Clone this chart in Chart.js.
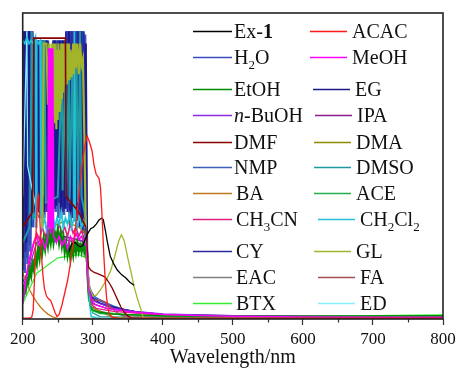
<!DOCTYPE html>
<html>
<head>
<meta charset="utf-8">
<script src="https://cdn.jsdelivr.net/npm/chart.js@4.4.1/dist/chart.umd.min.js"></script>
<style>
    html, body { margin: 0; padding: 0; background: #fff; }
</style>
</head>
<body>
<canvas id="uvChart" width="457" height="369"></canvas>
<script>
// absorbance spectra, [wavelength nm, absorbance]
const ex1 = [[266,0.22],[270,0.245],[275,0.25],[279,0.24],[282,0.236],[286,0.24],[289,0.26],[293,0.28],[297,0.295],[301,0.3],[305,0.31],[309,0.324],[313,0.33],[315,0.325],[318,0.29],[321,0.25],[325,0.205],[330,0.18],[335,0.16],[341,0.145],[347,0.135],[353,0.12],[359,0.11]];
const acac = [[200,0.003],[210,0.003],[213,0.006],[215,0.03],[217,0.14],[219,0.28],[221,0.39],[222,0.405],[223,0.39],[225,0.3],[227,0.2],[229,0.14],[231,0.1],[234,0.075],[237,0.066],[240,0.06],[243,0.042],[246,0.022],[249,0.008],[252,0.015],[256,0.045],[260,0.085],[264,0.125],[268,0.18],[271,0.23],[275,0.29],[280,0.4],[285,0.51],[289,0.57],[292,0.598],[295,0.58],[299,0.55],[302,0.5],[305,0.472],[309,0.46],[311,0.43],[313,0.35],[316,0.2],[318,0.12],[320,0.065],[323,0.02],[327,0.006],[335,0.003],[800,0.002]];
const h2o = [[200,0.94],[202,0.16],[204,0.94],[206,0.2],[208,0.94],[210,0.24],[212,0.94],[214,0.3],[216,0.91],[218,0.4],[220,0.91],[222,0.35],[224,0.91],[226,0.4],[228,0.91],[230,0.44],[232,0.91],[234,0.38],[236,0.91],[238,0.42],[240,0.45],[242,0.4],[244,0.91],[246,0.44],[248,0.91],[250,0.4],[252,0.91],[254,0.38],[256,0.91],[258,0.45],[260,0.91],[262,0.36],[264,0.94],[266,0.42],[268,0.94],[270,0.38],[272,0.94],[274,0.4],[276,0.94],[278,0.35],[280,0.94],[282,0.38],[284,0.94],[286,0.32],[288,0.92],[290,0.3],[292,0.2],[294,0.12],[296,0.09],[300,0.072],[305,0.065],[310,0.058],[320,0.049],[330,0.041],[345,0.031],[360,0.025],[380,0.019],[400,0.015],[450,0.011],[500,0.009],[600,0.008],[700,0.007],[800,0.006]];
const meoh = [[200,0.05],[204,0.12],[208,0.18],[212,0.22],[216,0.25],[220,0.27],[224,0.24],[228,0.26],[232,0.23],[236,0.27],[237,0.885],[238,0.3],[239,0.885],[240,0.28],[241,0.885],[242,0.3],[243,0.885],[244,0.27],[248,0.25],[252,0.27],[256,0.24],[260,0.26],[264,0.23],[268,0.27],[272,0.25],[276,0.28],[280,0.26],[284,0.27],[288,0.25],[291,0.24],[294,0.1],[298,0.06],[305,0.045],[320,0.035],[350,0.024],[400,0.015],[450,0.011],[500,0.009],[600,0.007],[800,0.005]];
const etoh = [[200,0.06],[202,0.1],[204,0.09],[206,0.13],[208,0.12],[210,0.16],[212,0.14],[214,0.18],[216,0.16],[218,0.2],[220,0.18],[222,0.23],[224,0.2],[226,0.25],[228,0.22],[230,0.26],[232,0.23],[234,0.27],[236,0.24],[238,0.28],[240,0.25],[242,0.29],[244,0.25],[246,0.28],[248,0.26],[250,0.29],[252,0.25],[254,0.28],[256,0.24],[258,0.27],[260,0.22],[262,0.25],[264,0.21],[266,0.24],[268,0.2],[270,0.24],[272,0.21],[274,0.25],[276,0.22],[278,0.25],[280,0.22],[282,0.24],[284,0.22],[286,0.25],[288,0.22],[290,0.24],[292,0.2],[294,0.08],[297,0.04],[300,0.03],[310,0.022],[330,0.016],[400,0.01],[500,0.009],[600,0.009],[700,0.01],[800,0.011]];
const eg = [[200,0.2],[203,0.94],[205,0.25],[209,0.94],[211,0.3],[216,0.91],[218,0.36],[222,0.91],[224,0.33],[229,0.91],[231,0.35],[235,0.91],[237,0.4],[246,0.91],[248,0.37],[253,0.91],[255,0.33],[258,0.91],[260,0.36],[266,0.94],[268,0.3],[275,0.94],[277,0.32],[283,0.94],[285,0.28],[290,0.9],[292,0.2],[295,0.1],[300,0.068],[310,0.052],[330,0.038],[360,0.024],[400,0.015],[500,0.009],[800,0.005]];
const nbuoh = [[200,0.1],[220,0.25],[250,0.27],[280,0.26],[291,0.25],[294,0.1],[300,0.06],[310,0.05],[330,0.035],[360,0.025],[400,0.017],[450,0.013],[500,0.011],[600,0.009],[700,0.008],[800,0.007]];
const ipa = [[200,0.12],[230,0.26],[260,0.27],[290,0.25],[294,0.08],[300,0.05],[320,0.035],[360,0.022],[400,0.015],[500,0.01],[800,0.006]];
const dmf = [[200,0.3],[214,0.35],[216,0.918],[261,0.918],[262,0.4],[280,0.35],[290,0.3],[294,0.17],[297,0.16],[302,0.152],[306,0.149],[311,0.144],[315,0.14],[318,0.136],[323,0.12],[328,0.1],[332,0.08],[335,0.065],[340,0.04],[345,0.022],[350,0.01],[355,0.004],[370,0.002],[800,0.002]];
const dma = [[240,0.3],[260,0.32],[280,0.3],[290,0.28],[294,0.1],[298,0.05],[302,0.035],[310,0.025],[320,0.014],[330,0.006],[345,0.003],[800,0.002]];
const nmp = [[201,0.94],[203,0.15],[205,0.94],[207,0.18],[209,0.94],[211,0.22],[213,0.94],[215,0.3],[217,0.91],[219,0.34],[221,0.91],[223,0.38],[225,0.91],[227,0.36],[229,0.91],[231,0.33],[233,0.91],[235,0.37],[237,0.5],[239,0.34],[241,0.5],[243,0.38],[245,0.91],[247,0.35],[249,0.91],[251,0.33],[253,0.91],[255,0.36],[257,0.91],[259,0.34],[261,0.91],[263,0.37],[265,0.94],[267,0.33],[269,0.94],[271,0.35],[273,0.94],[275,0.32],[277,0.94],[279,0.34],[281,0.94],[283,0.3],[285,0.94],[287,0.28],[289,0.93],[291,0.25],[293,0.15],[295,0.11],[298,0.09],[302,0.075],[306,0.068],[311,0.062],[316,0.056],[321,0.051],[330,0.042],[345,0.031],[370,0.02],[400,0.013],[430,0.01],[500,0.008],[600,0.007],[800,0.006]];
const dmso = [[200,0.25],[210,0.3],[213,0.94],[215,0.33],[226,0.35],[228,0.91],[229,0.4],[231,0.91],[233,0.38],[250,0.4],[256,0.82],[257,0.42],[261,0.85],[262,0.4],[266,0.82],[267,0.38],[271,0.85],[273,0.38],[277,0.82],[279,0.38],[282,0.94],[284,0.4],[290,0.33],[293,0.18],[296,0.05],[300,0.02],[310,0.008],[400,0.004],[800,0.003]];
const ba = [[200,0.15],[205,0.12],[210,0.095],[215,0.073],[220,0.055],[225,0.04],[230,0.028],[236,0.016],[242,0.008],[248,0.003],[260,0.002],[800,0.002]];
const ace = [[201,0.07],[205,0.1],[209,0.14],[213,0.17],[217,0.19],[221,0.22],[225,0.24],[229,0.23],[233,0.26],[237,0.25],[241,0.27],[245,0.26],[249,0.28],[253,0.26],[257,0.25],[261,0.23],[265,0.24],[269,0.22],[273,0.24],[277,0.23],[281,0.24],[285,0.23],[289,0.24],[292,0.2],[294,0.07],[298,0.03],[310,0.018],[400,0.009],[600,0.008],[800,0.01]];
const ch3cn = [[200,0.06],[204,0.12],[208,0.17],[212,0.21],[216,0.25],[220,0.28],[224,0.26],[228,0.3],[232,0.27],[236,0.29],[240,0.26],[244,0.3],[248,0.27],[252,0.31],[256,0.28],[260,0.3],[264,0.27],[268,0.31],[272,0.28],[276,0.3],[280,0.27],[284,0.29],[288,0.26],[291,0.25],[293,0.12],[297,0.05],[305,0.035],[330,0.025],[400,0.012],[500,0.008],[800,0.005]];
const ch2cl2 = [[200,0.91],[203,0.9],[206,0.92],[209,0.9],[212,0.91],[215,0.9],[218,0.92],[219,0.3],[220,0.91],[223,0.9],[225,0.91],[226,0.35],[228,0.3],[231,0.33],[234,0.29],[237,0.32],[240,0.3],[243,0.34],[246,0.3],[249,0.33],[252,0.31],[255,0.35],[258,0.3],[261,0.33],[264,0.31],[267,0.34],[270,0.3],[273,0.33],[274,0.94],[275,0.32],[278,0.3],[281,0.34],[284,0.3],[287,0.32],[290,0.29],[292,0.2],[294,0.12],[296,0.04],[298,0.008],[305,0.003],[800,0.002]];
const cy = [[201,0.94],[204,0.22],[208,0.94],[210,0.3],[214,0.94],[217,0.35],[220,0.91],[223,0.36],[226,0.91],[228,0.38],[233,0.91],[235,0.35],[244,0.91],[246,0.36],[250,0.91],[252,0.38],[256,0.91],[258,0.35],[262,0.94],[264,0.35],[270,0.94],[272,0.33],[279,0.94],[281,0.3],[287,0.94],[289,0.3],[292,0.18],[295,0.09],[300,0.062],[320,0.042],[340,0.032],[360,0.023],[400,0.014],[600,0.008],[800,0.006]];
const gl = [[228,0.3],[230,0.9],[234,0.9],[236,0.7],[238,0.9],[240,0.68],[242,0.9],[244,0.66],[245,0.9],[246,0.64],[247,0.9],[248,0.62],[249,0.88],[250,0.65],[251,0.9],[252,0.68],[253,0.88],[254,0.7],[255,0.9],[256,0.72],[257,0.88],[258,0.74],[259,0.9],[260,0.76],[261,0.88],[262,0.77],[263,0.9],[264,0.78],[266,0.9],[267,0.78],[268,0.88],[270,0.79],[272,0.9],[273,0.8],[275,0.9],[276,0.82],[278,0.9],[280,0.8],[282,0.9],[284,0.83],[286,0.85],[288,0.6],[290,0.3],[293,0.16],[296,0.1],[300,0.075],[305,0.078],[311,0.095],[319,0.125],[326,0.16],[332,0.21],[337,0.255],[341,0.275],[345,0.255],[350,0.2],[355,0.15],[359,0.105],[364,0.065],[369,0.03],[372,0.005],[380,0.002],[800,0.002]];
const eac = [[200,0.1],[230,0.25],[260,0.26],[290,0.24],[293,0.1],[297,0.04],[305,0.03],[320,0.02],[350,0.01],[400,0.006],[800,0.004]];
const fa = [[200,0.1],[230,0.25],[260,0.26],[290,0.24],[293,0.1],[297,0.065],[305,0.06],[311,0.062],[318,0.055],[325,0.04],[335,0.02],[345,0.008],[360,0.003],[800,0.002]];
const btx = [[200,0.05],[220,0.15],[250,0.2],[280,0.21],[291,0.2],[294,0.06],[300,0.025],[350,0.014],[400,0.01],[500,0.009],[600,0.009],[700,0.011],[800,0.013]];
const ed = [[200,0.4],[206,0.94],[207,0.5],[220,0.35],[240,0.3],[260,0.3],[280,0.28],[290,0.25],[294,0.1],[297,0.01],[310,0.003],[800,0.002]];

const seriesNames = ['Ex-1','ACAC','H2O','MeOH','EtOH','EG','n-BuOH','IPA','DMF','DMA','NMP','DMSO','BA','ACE','CH3CN','CH2Cl2','CY','GL','EAC','FA','BTX','ED'];
const seriesData = [ex1, acac, h2o, meoh, etoh, eg, nbuoh, ipa, dmf, dma, nmp, dmso, ba, ace, ch3cn, ch2cl2, cy, gl, eac, fa, btx, ed];
const seriesColors = ['#000000','#ff1a1a','#3a4cc0','#ff00ff','#008a00','#1a1a8a','#8a2be2','#8b1a8b','#8b0000','#8c8c00','#3d5fb8','#1e9aa0','#c07820','#22b14c','#e0207f','#22c3d8','#2a2aa0','#a2b42a','#808080','#a05050','#33ee33','#88eeff'];
// lower number is drawn on top
const drawOrder = [2,1,20,4,7,18,12,12,3,13,21,15,10,8,9,6,19,5,13,11,14,14];
// line width inside the saturated (noisy) band below 292 nm
const noiseWidth = [1.3,1.3,2.6,1.6,2.4,2.2,1.3,1.3,1.6,1.3,2.6,2,1.3,2,1.6,1.8,2.2,2.2,1.3,1.3,1.3,1.3];

// legend rows: text x for column 2, and vertical centre per row
const legendRowY = [31, 57, 89, 115, 142, 167, 193, 219, 251, 277, 303];
const legendCol2X = [352, 352, 355, 357, 356, 356, 356, 360, 356, 360, 360];
const legendParts = [
    [['Ex-'], ['1', 'b']], [['ACAC']],
    [['H'], ['2', 's'], ['O']], [['MeOH']],
    [['EtOH']], [['EG']],
    [['n', 'i'], ['-BuOH']], [['IPA']],
    [['DMF']], [['DMA']],
    [['NMP']], [['DMSO']],
    [['BA']], [['ACE']],
    [['CH'], ['3', 's'], ['CN']], [['CH'], ['2', 's'], ['Cl'], ['2', 's']],
    [['CY']], [['GL']],
    [['EAC']], [['FA']],
    [['BTX']], [['ED']]
];

const serif = "'Liberation Serif', 'Times New Roman', serif";

const framePlugin = {
    id: 'frame',
    afterDraw(chart) {
        const { ctx, chartArea } = chart;
        const x = chart.scales.x;
        ctx.save();
        // minor ticks
        ctx.strokeStyle = '#333';
        ctx.lineWidth = 1.2;
        [250, 350, 450, 550, 650, 750].forEach(v => {
            const px = Math.round(x.getPixelForValue(v)) + 0.5;
            ctx.beginPath();
            ctx.moveTo(px, chartArea.bottom);
            ctx.lineTo(px, chartArea.bottom + 3.5);
            ctx.stroke();
        });
        ctx.strokeStyle = '#222';
        ctx.lineWidth = 1.6;
        ctx.strokeRect(chartArea.left, chartArea.top, chartArea.right - chartArea.left, chartArea.bottom - chartArea.top);
        ctx.restore();
    }
};

const legendPlugin = {
    id: 'uvLegend',
    afterDraw(chart) {
        const ctx = chart.ctx;
        ctx.save();
        ctx.textBaseline = 'alphabetic';
        legendParts.forEach((parts, i) => {
            const row = Math.floor(i / 2);
            const col = i % 2;
            const y = legendRowY[row];
            let tx = col === 0 ? (row < 6 ? 234 : 236) : legendCol2X[row];
            const x1 = col === 0 ? 193 : tx - 42;
            const x2 = col === 0 ? 232 : tx - 5;
            ctx.strokeStyle = seriesColors[i];
            ctx.lineWidth = 1.5;
            ctx.beginPath();
            ctx.moveTo(x1, y + 0.5);
            ctx.lineTo(x2, y + 0.5);
            ctx.stroke();
            ctx.fillStyle = '#111';
            const base = y + 6.5;
            parts.forEach(([t, style]) => {
                if (style === 's') {
                    ctx.font = '13px ' + serif;
                    ctx.fillText(t, tx, base + 5);
                } else {
                    ctx.font = (style === 'b' ? 'bold ' : style === 'i' ? 'italic ' : '') + '20px ' + serif;
                    ctx.fillText(t, tx, base);
                }
                tx += ctx.measureText(t).width;
            });
        });
        ctx.restore();
    }
};

const datasets = seriesData.map((d, i) => ({
    label: seriesNames[i],
    data: d,
    borderColor: seriesColors[i],
    backgroundColor: seriesColors[i],
    borderWidth: 1.3,
    pointRadius: 0,
    fill: false,
    order: drawOrder[i],
    segment: {
        borderWidth: c => (d[c.p1DataIndex][0] <= 292 ? noiseWidth[i] : 1.3)
    }
}));

new Chart(document.getElementById('uvChart').getContext('2d'), {
    type: 'line',
    data: { datasets },
    options: {
        responsive: false,
        animation: false,
        layout: { autoPadding: false, padding: { left: 22.7, right: 14, top: 13, bottom: 0 } },
        plugins: { legend: { display: false }, tooltip: { enabled: false } },
        elements: { line: { tension: 0 } },
        scales: {
            x: {
                type: 'linear',
                min: 200,
                max: 800,
                ticks: { stepSize: 100, maxRotation: 0, padding: 4, color: '#111', font: { family: serif, size: 17 } },
                grid: { drawOnChartArea: false, tickLength: 6, color: '#333', tickWidth: 1.2 },
                border: { display: false },
                title: { display: true, text: 'Wavelength/nm', color: '#111', font: { family: serif, size: 20, lineHeight: 1.0 }, padding: { top: 0, bottom: 1 } },
                afterFit(scale) {
                    scale.height = 50;
                    scale.paddingLeft = 0;
                    scale.paddingRight = 0;
                }
            },
            y: { display: false, min: 0, max: 1 }
        }
    },
    plugins: [framePlugin, legendPlugin]
});
</script>
</body>
</html>
